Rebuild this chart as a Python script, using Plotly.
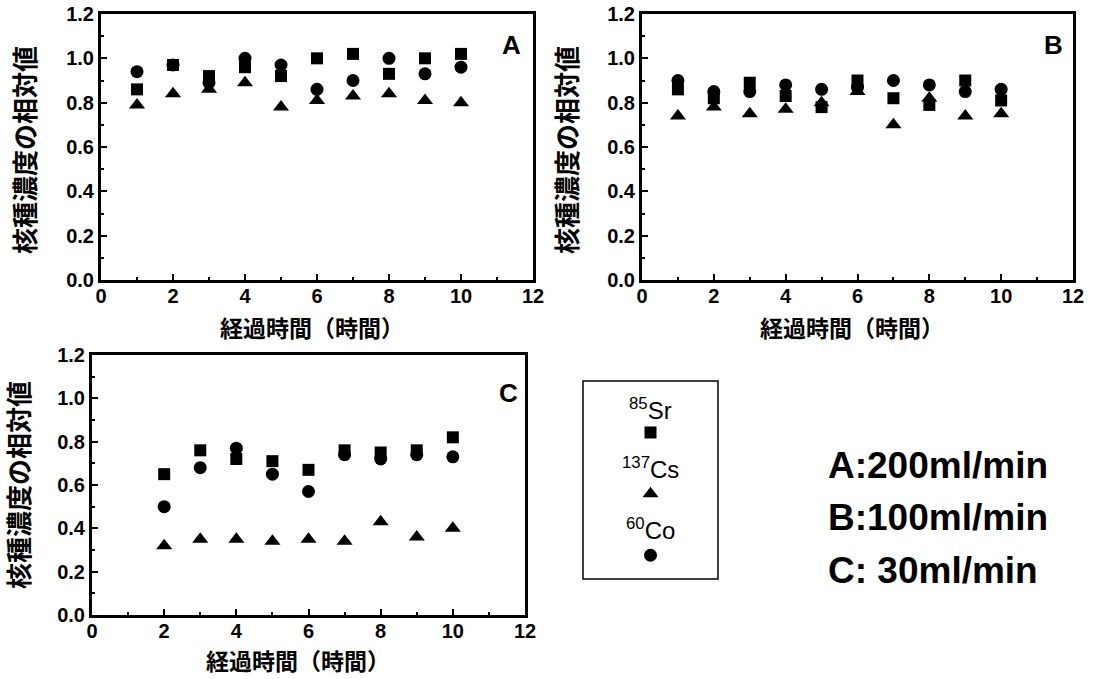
import plotly.graph_objects as go

W, H = 1100, 679

# ---------------- data ----------------
time_AB = [1, 2, 3, 4, 5, 6, 7, 8, 9, 10]
A_sr = [0.86, 0.97, 0.92, 0.96, 0.92, 1.00, 1.02, 0.93, 1.00, 1.02]
A_cs = [0.79, 0.84, 0.86, 0.89, 0.78, 0.81, 0.83, 0.84, 0.81, 0.80]
A_co = [0.94, 0.97, 0.89, 1.00, 0.97, 0.86, 0.90, 1.00, 0.93, 0.96]

B_sr = [0.86, 0.82, 0.89, 0.83, 0.78, 0.90, 0.82, 0.79, 0.90, 0.81]
B_cs = [0.74, 0.78, 0.75, 0.77, 0.80, 0.85, 0.70, 0.82, 0.74, 0.75]
B_co = [0.90, 0.85, 0.85, 0.88, 0.86, 0.87, 0.90, 0.88, 0.85, 0.86]

time_C = [2, 3, 4, 5, 6, 7, 8, 9, 10]
C_sr = [0.65, 0.76, 0.72, 0.71, 0.67, 0.76, 0.75, 0.76, 0.82]
C_cs = [0.32, 0.35, 0.35, 0.34, 0.35, 0.34, 0.43, 0.36, 0.40]
C_co = [0.50, 0.68, 0.77, 0.65, 0.57, 0.74, 0.72, 0.74, 0.73]

x_ticks = [0, 2, 4, 6, 8, 10, 12]
y_ticks = [0.0, 0.2, 0.4, 0.6, 0.8, 1.0, 1.2]
x_title = "経過時間（時間）"
y_title = "核種濃度の相対値"
panel_labels = ["A", "B", "C"]
nuclides = ["<sup>85</sup>Sr", "<sup>137</sup>Cs", "<sup>60</sup>Co"]
symbols = ["square", "triangle-up", "circle"]
flow_rates = ["A:200ml/min", "B:100ml/min", "C: 30ml/min"]

# ---------------- helpers ----------------
def fx(px):
    return px / W

def fy(py):
    return 1 - py / H

# panel frames in pixels: left, right, top, bottom
panels = [
    (101, 533, 14, 280),
    (642, 1073, 14, 280),
    (92, 525, 355, 615),
]

FONT = "Liberation Sans, Arial, Helvetica, sans-serif"
CJK = "Noto Sans CJK JP, sans-serif"

fig = go.Figure()

datasets = [
    (time_AB, A_sr, A_cs, A_co),
    (time_AB, B_sr, B_cs, B_co),
    (time_C, C_sr, C_cs, C_co),
]
sizes = {"square": 12, "triangle-up": 14, "circle": 13}

for i, (t, sr, cs, co) in enumerate(datasets):
    ax = "" if i == 0 else str(i + 1)
    for vals, sym in zip([sr, cs, co], symbols):
        fig.add_trace(go.Scatter(
            x=t, y=vals, mode="markers",
            marker=dict(symbol=sym, size=sizes[sym], color="black",
                        line=dict(width=0)),
            xaxis="x" + ax, yaxis="y" + ax, showlegend=False,
            hoverinfo="skip"))

layout = dict(
    width=W, height=H,
    margin=dict(l=0, r=0, t=0, b=0, autoexpand=False),
    paper_bgcolor="white", plot_bgcolor="white",
    showlegend=False,
    font=dict(family=FONT, color="black"),
)

for i, (l, r, t, b) in enumerate(panels):
    ax = "" if i == 0 else str(i + 1)
    layout["xaxis" + ax] = dict(
        domain=[fx(l), fx(r)], range=[0, 12],
        tickvals=x_ticks, ticktext=[str(v) for v in x_ticks],
        ticks="inside", ticklen=6, tickwidth=2, tickcolor="black",
        minor=dict(dtick=1, ticks="inside", ticklen=3, tickwidth=1.5, tickcolor="black"),
        showline=True, linewidth=3, linecolor="black", mirror=True,
        showgrid=False, zeroline=False, automargin=False,
        tickfont=dict(size=20, family=FONT, weight="bold"),
        ticklabelstandoff=-4,
        anchor="y" + ax, fixedrange=True,
    )
    layout["yaxis" + ax] = dict(
        domain=[fy(b), fy(t)], range=[0, 1.2],
        tickvals=y_ticks, ticktext=["%.1f" % v for v in y_ticks],
        ticks="inside", ticklen=6, tickwidth=2, tickcolor="black",
        minor=dict(dtick=0.1, ticks="inside", ticklen=3, tickwidth=1.5, tickcolor="black"),
        showline=True, linewidth=3, linecolor="black", mirror=True,
        showgrid=False, zeroline=False, automargin=False,
        tickfont=dict(size=20, family=FONT, weight="bold"),
        anchor="x" + ax, fixedrange=True,
    )

# legend box axis (hidden)
box = (583, 718, 381, 579)
layout["xaxis4"] = dict(domain=[fx(box[0]), fx(box[1])], range=[0, 1],
                        visible=False, anchor="y4", fixedrange=True, automargin=False)
layout["yaxis4"] = dict(domain=[fy(box[3]), fy(box[2])], range=[0, 1],
                        visible=False, anchor="x4", fixedrange=True, automargin=False)

fig.update_layout(**layout)

# legend symbols
leg_sym_y = [0.74, 0.43, 0.12]
leg_txt_y = [0.86, 0.56, 0.255]
for sym, yy in zip(symbols, leg_sym_y):
    fig.add_trace(go.Scatter(
        x=[0.5], y=[yy], mode="markers",
        marker=dict(symbol=sym, size=sizes[sym], color="black"),
        xaxis="x4", yaxis="y4", showlegend=False, hoverinfo="skip"))

shapes = [dict(type="rect", xref="paper", yref="paper",
               x0=fx(box[0]), x1=fx(box[1]), y0=fy(box[3]), y1=fy(box[2]),
               line=dict(color="black", width=1.5))]

annotations = []
for name, yy in zip(nuclides, leg_txt_y):
    annotations.append(dict(
        text=name, xref="x4", yref="y4", x=0.5, y=yy, showarrow=False,
        xanchor="center", yanchor="middle",
        font=dict(size=24, family=FONT, color="black")))

# panel letters
letter_pos = [(511, 45), (1053, 45), (508, 393)]
for lab, (px, py) in zip(panel_labels, letter_pos):
    annotations.append(dict(
        text=lab, xref="paper", yref="paper", x=fx(px), y=fy(py),
        showarrow=False, xanchor="center", yanchor="middle",
        font=dict(size=26, family=FONT, weight="bold", color="black")))

# axis titles
xt_pos = [(312, 327), (852, 327), (298, 660)]
yt_pos = [(23, 150), (565, 150), (17, 485)]
for (px, py) in xt_pos:
    annotations.append(dict(
        text=x_title, xref="paper", yref="paper", x=fx(px), y=fy(py),
        showarrow=False, xanchor="center", yanchor="middle",
        font=dict(size=23, family=CJK, weight="bold", color="black")))
for (px, py) in yt_pos:
    annotations.append(dict(
        text=y_title, xref="paper", yref="paper", x=fx(px), y=fy(py),
        showarrow=False, xanchor="center", yanchor="middle", textangle=-90,
        font=dict(size=26, family=CJK, weight="bold", color="black")))

# flow rates
flow_y = [465, 517, 570]
for txt, py in zip(flow_rates, flow_y):
    annotations.append(dict(
        text=txt, xref="paper", yref="paper", x=fx(826), y=fy(py),
        showarrow=False, xanchor="left", yanchor="middle",
        font=dict(size=37, family=FONT, weight="bold", color="black")))

fig.update_layout(shapes=shapes, annotations=annotations)

fig.write_html("out.html",
               config={"displayModeBar": False},
               post_script="document.body.style.margin='0px';document.body.style.overflow='hidden';")
